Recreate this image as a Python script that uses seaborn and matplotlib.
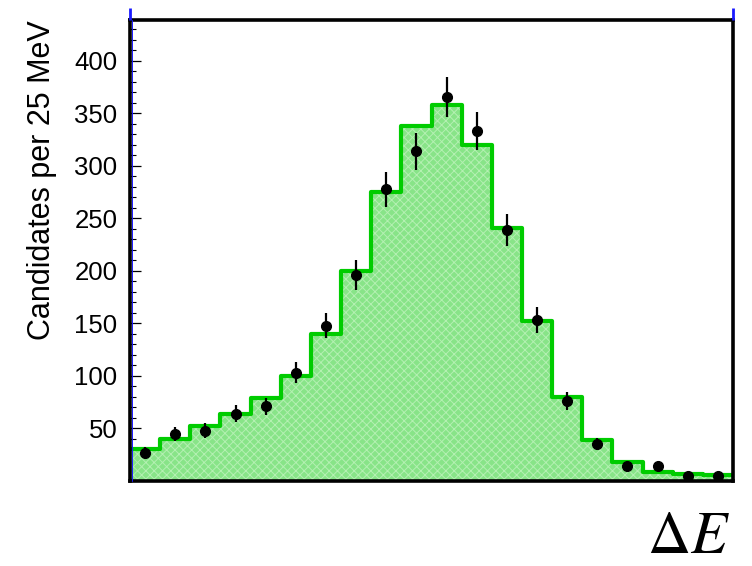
import numpy as np
import pandas as pd
import matplotlib
matplotlib.use("Agg")
import matplotlib.pyplot as plt
from matplotlib.ticker import MultipleLocator, FixedLocator
import seaborn as sns

# Delta E distribution, 25 MeV bins from -0.25 to 0.25 GeV
bin_edges = [round(-0.25 + 0.025 * i, 4) for i in range(21)]
bin_centers = [0.5 * (a + b) for a, b in zip(bin_edges[:-1], bin_edges[1:])]

# expected yield per bin (filled histogram)
model_counts = [30, 40, 52, 64, 79, 100, 140, 200, 275, 338,
                358, 320, 241, 152, 80, 39, 18, 9, 7, 6]
# observed candidates per bin (points with Poisson errors)
data_counts = [27, 45, 48, 64, 71, 103, 148, 196, 278, 314,
               366, 333, 239, 153, 76, 35, 14, 14, 5, 5]

y_ticks = [50, 100, 150, 200, 250, 300, 350, 400]

sns.set_theme(style="white")
plt.rcParams["font.family"] = ["Liberation Sans", "DejaVu Sans"]
plt.rcParams["mathtext.fontset"] = "stix"
plt.rcParams["hatch.linewidth"] = 0.7
for key in ["text.color", "axes.labelcolor", "xtick.color", "ytick.color"]:
    plt.rcParams[key] = "black"

fig = plt.figure(figsize=(7.52, 5.66), dpi=100)
ax = fig.add_axes([130 / 752, 1 - 481 / 566, 603 / 752, 461 / 566])

df = pd.DataFrame({"dE": bin_centers, "n": model_counts})

# textured fill of the expected yield
sns.histplot(data=df, x="dE", weights="n", bins=bin_edges, element="step",
             fill=True, ax=ax, color="#88e488", alpha=1.0, linewidth=0)
for coll in ax.collections:
    coll.set_facecolor("#88e488")
    coll.set_edgecolor("#b4f0b2")
    coll.set_linewidth(0)
    coll.set_hatch("xxxx")
    coll.set_zorder(1)

# solid outline of the expected yield
sns.histplot(data=df, x="dE", weights="n", bins=bin_edges, element="step",
             fill=False, ax=ax, color="#00cc00", linewidth=3.0, zorder=2)

data = pd.DataFrame({"dE": bin_centers, "n": data_counts})
ax.errorbar(data["dE"], data["n"], yerr=np.sqrt(data["n"]), fmt="o",
            color="black", markersize=7, elinewidth=1.6, capsize=0, zorder=4)

ax.set_xlim(-0.25, 0.25)
ax.set_ylim(0, 439)
ax.set_xlabel("")
ax.set_ylabel("Candidates per 25 MeV", fontsize=22)
ax.yaxis.set_label_coords(-0.121, 0.652)

ax.xaxis.set_major_locator(MultipleLocator(0.05))
ax.xaxis.set_minor_locator(MultipleLocator(0.01))
ax.yaxis.set_major_locator(FixedLocator(y_ticks))
ax.yaxis.set_minor_locator(MultipleLocator(10))
ax.tick_params(axis="both", which="major", direction="in", length=8, width=0.9,
               color="black", labelsize=18.5, pad=9)
ax.tick_params(axis="both", which="minor", direction="in", length=4.2, width=0.8,
               color="black")
ax.tick_params(axis="x", which="both", labelbottom=False, bottom=True)
ax.tick_params(axis="y", which="both", left=True)

for side in ["top", "bottom", "left", "right"]:
    ax.spines[side].set_visible(True)
    ax.spines[side].set_color("black")
    ax.spines[side].set_linewidth(2.6)
    ax.spines[side].set_zorder(5)

# blue frame markers rising above the top corners and along the y axis
blue = "#1a1aff"
for xc in (0.0, 1.0):
    ax.plot([xc, xc], [1.0, 1.0 + 12 / 461], transform=ax.transAxes,
            color=blue, linewidth=2.0, clip_on=False, zorder=6,
            solid_capstyle="butt")
ax.plot([0.0025, 0.0025], [0.0, 1.0], transform=ax.transAxes, color=blue,
        linewidth=0.7, clip_on=False, zorder=6)

fig.text(730 / 752, 1 - 565 / 566, r"$\Delta E$", fontsize=43,
         ha="right", va="bottom")

fig.savefig("out.png", dpi=100)
